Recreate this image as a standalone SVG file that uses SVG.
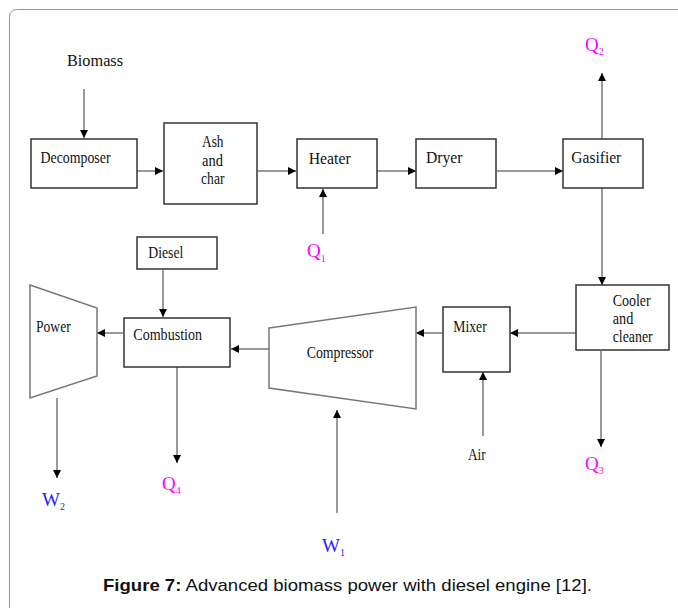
<svg xmlns="http://www.w3.org/2000/svg" width="678" height="608" viewBox="0 0 678 608">
<style>
.box{fill:#fff;stroke:#333;stroke-width:1.5}
.trap{fill:#fff;stroke:#777;stroke-width:1.5}
.t{font-family:"Liberation Serif","Times New Roman",serif;font-size:16.5px;fill:#111}
.q{font-family:"Liberation Serif","Times New Roman",serif;font-size:19px}
.m{fill:#f0f}
.b{fill:#22f}
.sub{font-size:10px}
.c line{stroke:#999;stroke-width:2;marker-end:url(#ah)}
</style>
<defs>
<marker id="ah" markerWidth="10" markerHeight="10" refX="8" refY="4" orient="auto" markerUnits="userSpaceOnUse">
<path d="M0,0 L8,4 L0,8 Z" fill="#000"/>
</marker>
</defs>
<rect x="9.5" y="9.5" width="720" height="720" rx="7" fill="#fff" stroke="#999" stroke-width="1"/>
<g class="c">
<line x1="84" y1="89" x2="84" y2="138"/>
<line x1="137" y1="171" x2="163" y2="171"/>
<line x1="258" y1="171" x2="296" y2="171"/>
<line x1="323" y1="234" x2="323" y2="189"/>
<line x1="377" y1="171" x2="416" y2="171"/>
<line x1="497" y1="171" x2="563" y2="171"/>
<line x1="602" y1="139" x2="602" y2="73"/>
<line x1="602" y1="188" x2="602" y2="285"/>
<line x1="576" y1="333" x2="510" y2="333"/>
<line x1="443" y1="333" x2="416" y2="333"/>
<line x1="483" y1="436" x2="483" y2="372"/>
<line x1="601" y1="351" x2="601" y2="447"/>
<line x1="337" y1="513" x2="337" y2="410"/>
<line x1="269" y1="349" x2="231" y2="349"/>
<line x1="163" y1="270" x2="163" y2="317"/>
<line x1="123" y1="333" x2="97" y2="333"/>
<line x1="177" y1="367" x2="177" y2="463"/>
<line x1="57" y1="398" x2="57" y2="478"/>
</g>
<g id="biomass"><text class="t" x="67" y="66" font-size="20" textLength="56" lengthAdjust="spacingAndGlyphs">Biomass</text></g>
<g id="decomposer"><rect class="box" x="31" y="139" width="106" height="49"/><text class="t" x="40.5" y="163" textLength="70" lengthAdjust="spacingAndGlyphs">Decomposer</text></g>
<g id="ashchar"><rect class="box" x="164" y="123" width="93" height="81"/>
<text class="t" x="202" y="147" textLength="21.5" lengthAdjust="spacingAndGlyphs">Ash</text>
<text class="t" x="202" y="165.5" textLength="21" lengthAdjust="spacingAndGlyphs">and</text>
<text class="t" x="201" y="184" textLength="23.5" lengthAdjust="spacingAndGlyphs">char</text></g>
<g id="heater"><rect class="box" x="297" y="139" width="80" height="49"/><text class="t" x="308.7" y="164" textLength="42" lengthAdjust="spacingAndGlyphs">Heater</text></g>
<g id="q1"><text class="q m" x="307" y="257">Q<tspan class="sub" dy="5">1</tspan></text></g>
<g id="dryer"><rect class="box" x="416" y="139" width="80" height="49"/><text class="t" x="426" y="162.5" textLength="36.5" lengthAdjust="spacingAndGlyphs">Dryer</text></g>
<g id="gasifier"><rect class="box" x="563" y="139" width="80" height="49"/><text class="t" x="571.3" y="163" textLength="50" lengthAdjust="spacingAndGlyphs">Gasifier</text></g>
<g id="q2"><text class="q m" x="585" y="50.5">Q<tspan class="sub" dy="4">2</tspan></text></g>
<g id="cooler"><rect class="box" x="576" y="285" width="93" height="65"/>
<text class="t" x="612.7" y="305.5" textLength="38" lengthAdjust="spacingAndGlyphs">Cooler</text>
<text class="t" x="612.7" y="323.5" textLength="20.6" lengthAdjust="spacingAndGlyphs">and</text>
<text class="t" x="612.7" y="342" textLength="40" lengthAdjust="spacingAndGlyphs">cleaner</text></g>
<g id="q3"><text class="q m" x="585" y="470">Q<tspan class="sub" dy="4">3</tspan></text></g>
<g id="mixer"><rect class="box" x="443" y="307" width="67" height="65"/><text class="t" x="453.3" y="331.7" textLength="33.4" lengthAdjust="spacingAndGlyphs">Mixer</text></g>
<g id="air"><text class="t" x="468" y="460" textLength="17.7" lengthAdjust="spacingAndGlyphs">Air</text></g>
<g id="compressor"><path class="trap" d="M269,328 L416,307 L416,409 L269,388 Z"/><text class="t" x="306.7" y="358.3" textLength="66.6" lengthAdjust="spacingAndGlyphs">Compressor</text></g>
<g id="w1"><text class="q b" x="322" y="552">W<tspan class="sub" dy="4">1</tspan></text></g>
<g id="combustion"><rect class="box" x="124" y="318" width="106" height="49"/><text class="t" x="133.3" y="340.3" textLength="68.7" lengthAdjust="spacingAndGlyphs">Combustion</text></g>
<g id="diesel"><rect class="box" x="137" y="237" width="80" height="32"/><text class="t" x="148.3" y="258" textLength="35" lengthAdjust="spacingAndGlyphs">Diesel</text></g>
<g id="q4"><text class="q m" x="162" y="490">Q<tspan class="sub" dy="4">4</tspan></text></g>
<g id="power"><path class="trap" d="M30,285 L97,308 L97,376 L30,398 Z"/><text class="t" x="36" y="331.7" textLength="34.7" lengthAdjust="spacingAndGlyphs">Power</text></g>
<g id="w2"><text class="q b" x="42" y="506">W<tspan class="sub" dy="4">2</tspan></text></g>
<g id="caption"><text x="103" y="591" font-family="Liberation Sans, Arial, sans-serif" font-size="17" fill="#111" textLength="489" lengthAdjust="spacingAndGlyphs"><tspan font-weight="bold">Figure 7:</tspan> Advanced biomass power with diesel engine [12].</text></g>
</svg>
